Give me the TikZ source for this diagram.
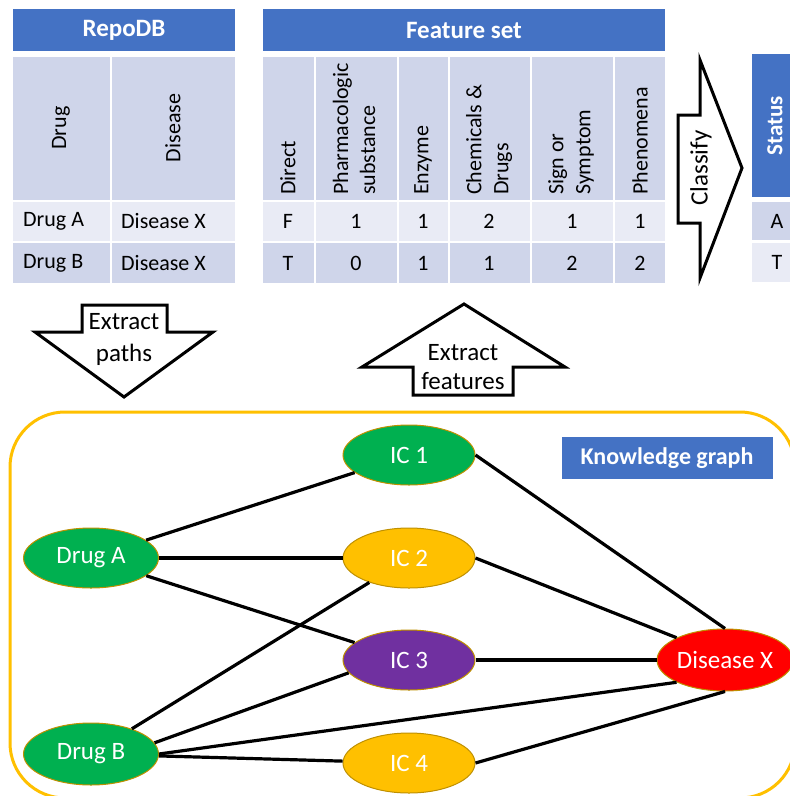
\documentclass[tikz,border=0pt]{standalone}
\usepackage{fontspec}
\setmainfont{Carlito}
\usetikzlibrary{shapes.geometric}
\definecolor{hdrblue}{HTML}{4472C4}
\definecolor{cellmid}{HTML}{CFD5EA}
\definecolor{celllight}{HTML}{E9EBF5}
\definecolor{kgorange}{HTML}{FFC000}
\definecolor{icgreen}{HTML}{00B050}
\definecolor{icpurple}{HTML}{7030A0}
\definecolor{icred}{HTML}{FF0000}
\definecolor{ellborder}{HTML}{BF9000}
\tikzset{
  hdr/.style={text=white, font=\fontsize{25}{30}\selectfont\bfseries, inner sep=0pt},
  celltxt/.style={font=\fontsize{22}{27}\selectfont, inner sep=0pt},
  rothdr/.style={celltxt, rotate=90, anchor=west, align=left},
  flowarrow/.style={draw=black, line width=3pt, line join=miter, fill=white},
  arrowtxt/.style={font=\fontsize{25}{30}\selectfont, align=center, inner sep=0pt},
  kgnode/.style={ellipse, draw=ellborder, line width=1pt, text=white,
    font=\fontsize{25}{30}\selectfont, minimum width=132pt, minimum height=60pt, inner sep=0pt},
  link/.style={line width=3.2pt, black}
}
\begin{document}
\begin{tikzpicture}[x=1pt,y=-1pt]
\useasboundingbox (0,0) rectangle (790,796);
\clip (0,0) rectangle (790,796);

% ---------- RepoDB table ----------
\fill[hdrblue] (13,9) rectangle (235,51);
\node[hdr] (repodb) at (124,30) {RepoDB};
\fill[cellmid] (13,57) rectangle (110,200);
\fill[cellmid] (112,57) rectangle (235,200);
\fill[celllight] (13,202) rectangle (110,241);
\fill[celllight] (112,202) rectangle (235,241);
\fill[cellmid] (13,243) rectangle (110,283);
\fill[cellmid] (112,243) rectangle (235,283);
\node[celltxt, rotate=90] (hdrug) at (61,128) {Drug};
\node[celltxt, rotate=90] (hdis) at (173,128) {Disease};
\node[celltxt, anchor=west] (r1a) at (23,221) {Drug A};
\node[celltxt, anchor=west] (r1b) at (121,221) {Disease X};
\node[celltxt, anchor=west] (r2a) at (23,263) {Drug B};
\node[celltxt, anchor=west] (r2b) at (121,263) {Disease X};

% ---------- Feature set table ----------
\fill[hdrblue] (263,9) rectangle (665,51);
\node[hdr] (fset) at (464,30) {Feature set};
\foreach \xa/\xb [count=\i] in {263/314, 316/397, 399/448, 450/530, 532/613, 615/665}{
  \fill[cellmid] (\xa,57) rectangle (\xb,200);
  \fill[celllight] (\xa,202) rectangle (\xb,241);
  \fill[cellmid] (\xa,243) rectangle (\xb,283);
}
\node[rothdr] (fdirect) at (288,195) {Direct};
\node[rothdr] (fpharm) at (354,195) {Pharmacologic\\substance};
\node[rothdr] (fenz) at (423,195) {Enzyme};
\node[rothdr] (fchem) at (489,195) {Chemicals \&\\Drugs};
\node[rothdr] (fsign) at (571,195) {Sign or\\Symptom};
\node[rothdr] (fphen) at (640,195) {Phenomena};
\foreach \x/\a/\b [count=\i] in {288/F/T, 356/1/0, 423/1/1, 489/2/1, 572/1/2, 640/1/2}{
  \node[celltxt] (fa\i) at (\x,221) {\a};
  \node[celltxt] (fb\i) at (\x,263) {\b};
}

% ---------- Status table ----------
\fill[hdrblue] (752,54) rectangle (800,197);
\node[hdr, rotate=90, font=\fontsize{23}{28}\selectfont\bfseries] (status) at (775,126) {Status};
\fill[cellmid] (752,202) rectangle (800,240);
\fill[celllight] (752,243) rectangle (800,282);
\node[celltxt] (sa) at (777,221) {A};
\node[celltxt] (st) at (777,262) {T};

% ---------- block arrows ----------
\draw[flowarrow] (678,115) -- (700,115) -- (700,60) -- (742,168) -- (700,278) -- (700,223) -- (678,223) -- cycle;
\node[arrowtxt, rotate=90] (classify) at (701,168) {Classify};

\draw[flowarrow] (82,305) -- (167,305) -- (167,332) -- (213,332) -- (124,397) -- (35,332) -- (82,332) -- cycle;
\node[arrowtxt, font=\fontsize{25}{32}\selectfont] (xpaths) at (124,339) {Extract\\paths};

\draw[flowarrow] (464,304) -- (565,367) -- (513,367) -- (513,395) -- (413,395) -- (413,367) -- (362,367) -- cycle;
\node[arrowtxt, font=\fontsize{25}{29}\selectfont] (xfeat) at (463,367) {Extract\\features};

% ---------- Knowledge graph ----------
\draw[kgorange, line width=3pt, rounded corners=55pt] (10,412) rectangle (795,798);
\node[fill=hdrblue, text=white, font=\fontsize{24}{29}\selectfont\bfseries,
      minimum width=211pt, minimum height=42pt, inner sep=0pt] (kglabel) at (667,458) {Knowledge graph};

\node[kgnode, fill=icgreen] (ic1) at (409,455) {IC 1};
\node[kgnode, fill=kgorange] (ic2) at (409,558) {IC 2};
\node[kgnode, fill=icpurple] (ic3) at (409,660) {IC 3};
\node[kgnode, fill=kgorange] (ic4) at (409,763) {IC 4};
\node[kgnode, fill=icgreen, minimum width=135pt] (druga) at (91,558) {Drug A};
\node[kgnode, fill=icgreen, minimum width=135pt, minimum height=62pt] (drugb) at (91,754) {Drug B};
\node[kgnode, fill=icred, minimum width=131pt, minimum height=62pt] (dx) at (725,660) {Disease X};

\draw[link] (druga) -- (ic1);
\draw[link] (druga) -- (ic2);
\draw[link] (druga) -- (ic3);
\draw[link] (drugb) -- (ic2);
\draw[link] (drugb.10) -- (ic3.192);
\draw[link] (drugb.east) -- (dx.south west);
\draw[link] (drugb) -- (ic4);
\draw[link] (ic1.east) -- (dx.north);
\draw[link] (ic2.east) -- (dx.north west);
\draw[link] (ic3.east) -- (dx.west);
\draw[link] (ic4.east) -- (dx.south);
\end{tikzpicture}
\end{document}
